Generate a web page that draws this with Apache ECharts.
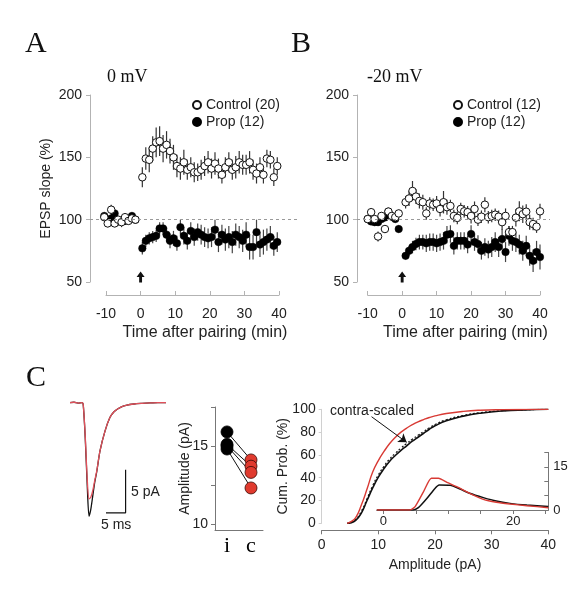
<!DOCTYPE html>
<html><head><meta charset="utf-8">
<script src="https://cdn.jsdelivr.net/npm/echarts@6/dist/echarts.min.js"></script>
<style>html,body{margin:0;padding:0;background:#fff}#c{width:588px;height:601px}</style>
</head><body><div id="c"></div><script>
// ---------------- DATA ----------------
// Panel A (0 mV): time (min), mean EPSP slope (%), SEM
const tA = [-10.5,-9.5,-8.5,-7.5,-6.5,-5.5,-4.5,-3.5,-2.5,-1.5,
  0.5,1.5,2.5,3.5,4.5,5.5,6.5,7.5,8.5,9.5,10.5,11.5,12.5,13.5,14.5,15.5,16.5,17.5,18.5,19.5,
  20.5,21.5,22.5,23.5,24.5,25.5,26.5,27.5,28.5,29.5,30.5,31.5,32.5,33.5,34.5,35.5,36.5,37.5,38.5,39.5];
const ctrlA = [102,97,108,97,100,98,102,99,101,100,
  134,149,148,157,162,163,157,160,155,150,143,141,146,140,142,138,138,140,143,146,
  141,145,141,136,142,146,140,142,146,144,144,146,140,137,142,136,149,148,134,143];
const ctrlAErr = [3,3,4,3,3,4,3,3,3,3,
  8,9,10,10,12,12,11,11,10,10,9,9,10,8,8,8,7,8,8,9,
  8,9,8,7,8,8,8,9,9,8,8,9,8,8,8,7,7,7,7,7];
const propA = [103,100,101,105,99,99,99,100,103,100,
  77,83,85,86,87,93,93,88,83,85,81,94,87,83,91,86,90,88,86,85,
  86,92,82,88,84,86,82,88,86,83,88,78,78,90,80,82,84,86,79,82];
const propAErr = [3,3,3,3,4,3,3,3,3,3,
  5,5,5,5,5,5,5,6,6,6,6,6,7,7,7,7,7,8,8,8,
  8,8,8,8,9,9,9,9,9,9,10,10,10,10,10,10,9,9,8,8];

// Panel B (-20 mV)
const tB = [-10,-9,-8,-7,-6,-5,-4,-3,-2,-1,
  1,2,3,4,5,6,7,8,9,10,11,12,13,14,15,16,17,18,19,20,
  21,22,23,24,25,26,27,28,29,30,31,32,33,34,35,36,37,38,39,40];
const ctrlB = [100.5,106,100.5,86.5,103,92.5,106.5,103,102,105,
  114,117,123,118.5,115,114,105,113,112,113,108.6,114,110,111,103,101.4,108.6,106.7,106,103,
  108.6,100,102.4,112,102,103,104,102.4,98,103,90,90,101.6,106.7,104.4,106.4,98,96.5,94.4,106.7];
const ctrlBErr = [3,3,3,4,3,3,3,3,3,3,
  5,6,8,6,6,6,5,5,5,6,6,9,6,5,5,5,5,5,5,6,
  6,5,5,6,5,5,5,5,6,6,5,5,7,8,7,6,6,5,5,6];
const propB = [100.5,98.6,98,98,100.5,101.8,106.4,102.4,100.5,92.5,
  71,75,78,80.5,82,82,81,82,82,81,82,83,88,88.5,79,83,83,83,80,88.5,
  82,80.5,75,78,76,78,82,78,84.5,74,87,83,82,80,75,79,71,67,74,70];
const propBErr = [2,2,2,2,2,2,3,3,3,3,
  3,4,5,5,6,6,7,7,7,7,7,7,7,7,7,7,7,7,7,7,
  7,7,7,7,7,8,8,8,8,8,8,8,8,8,8,8,8,9,9,10];
const pairingArrow = [[0, 54]];

// Panel C: averaged current traces (ms, pA)
const traceT = [0,1,2,3,3.3,3.8,4.3,4.75,5.2,5.7,6.2,6.7,7.5,8.75,10,11,12,13,14,16,18,20,22,24];
const traceIpsi = [0,0.05,-0.05,0,-0.2,-4,-9.5,-13.2,-12.4,-10.8,-9.2,-8.0,-5.6,-3.3,-1.7,-1.05,-0.7,-0.45,-0.3,-0.15,-0.08,-0.03,0,0];
const traceContra = [0,0.05,-0.05,0,-0.2,-3.8,-8.8,-11.2,-11.0,-10.2,-9.0,-7.9,-5.6,-3.3,-1.7,-1.05,-0.7,-0.45,-0.3,-0.15,-0.08,-0.03,0,0];
const scaleBar = [[9,-12.8],[13.9,-12.8],[13.9,-7.8]]; // 5 ms x 5 pA

// Panel C: paired amplitudes
const ampCats = ['i','c'];
const ampIpsi = [15.9,15.1,15.0,14.8];
const ampContra = [14.1,13.7,13.3,12.3];

// Panel C: cumulative probability
const cumX = [4.5,5,6,7,8,9,10,11,12,13,14,15,16,17,18,19,20,22,25,28,32,36,40];
const cumContra = [0,1,5,16,30,45,55,63,70,75.5,80,83.5,86.5,89,91,92.8,94.2,96.3,98.2,99.2,99.7,99.9,100];
const cumIpsi = [0,0.3,2.5,9,20,31,40.5,48,54.5,59.5,64,68,72,75.5,79,82.5,85.5,90,94,96.6,98.6,99.5,100];
const cumScaled = [0,0.5,3.5,10.5,21.5,33,42.5,50,56.5,61.5,66,70,73.8,77.2,80.5,83.8,86.6,90.8,94.6,97,98.8,99.6,100];
const arrowFrom = [8.8, 93.5], arrowTo = [15.0, 71];

// Inset: amplitude distributions
const insetIpsiX = [-1,4.6,5.4,6.7,7.95,8.6,10.3,11.8,13.3,15.4,17.4,19.5,22.1,25.4];
const insetIpsiY = [0,0,0.8,4.0,7.5,8.7,8.6,7.3,5.8,4.3,3.1,2.3,1.7,1.2];
const insetContraX = [-1,4.1,4.9,6.2,7.4,8.5,9.8,11.3,13.3,15.4,17.4,19.5,22.1,25.4];
const insetContraY = [0,0,1.2,6.4,11.0,11.0,9.6,8.1,5.8,3.7,2.7,2.1,1.5,0.8];

// ---------------- CHART ----------------
const SANS = 'Liberation Sans, Arial, sans-serif';
const SERIF = 'Liberation Serif, Times New Roman, serif';
const TXT = '#222';
const AX = '#b3b3b3';
const AX2 = '#777';
const RED = '#d83a34';

function panel(p) {
  const ppm = (p.t1 - p.t0) / 50;
  return {
    dataGrid: {left: p.yx, top: p.top, width: p.right - p.yx, height: p.bottom - p.top},
    axisGrid: {left: p.t0, top: p.top, width: p.t1 - p.t0, height: p.bottom - p.top},
    xmin: -10 - (p.t0 - p.yx) / ppm, xmax: 40 + (p.right - p.t1) / ppm
  };
}
const PA = panel({yx: 90, t0: 106, t1: 279, right: 300, top: 95, bottom: 282});
const PB = panel({yx: 357, t0: 367.7, t1: 540, right: 550, top: 95, bottom: 282});

const zip = (xs, ys) => xs.map((x, i) => [x, ys[i]]);
function errBars(xi, t, m, e, color) {
  return {
    type: 'custom', xAxisIndex: xi, yAxisIndex: xi, z: 2, silent: true,
    data: t.map((x, i) => [x, m[i] - e[i], m[i] + e[i]]),
    renderItem: function (params, api) {
      const a = api.coord([api.value(0), api.value(1)]);
      const b = api.coord([api.value(0), api.value(2)]);
      return {type: 'line', shape: {x1: a[0], y1: a[1], x2: b[0], y2: b[1]}, style: {stroke: color, lineWidth: 1.2}};
    }
  };
}
function dots(xi, name, t, m, open) {
  return {
    type: 'scatter', name: name, xAxisIndex: xi, yAxisIndex: xi, z: 3, symbol: 'circle', symbolSize: 7.5,
    data: zip(t, m),
    itemStyle: open ? {color: '#fff', borderColor: '#111', borderWidth: 1, opacity: 1} : {color: '#000', borderColor: '#000', borderWidth: 0.5, opacity: 1}
  };
}
const arrowSym = 'path://M5,0L10,6L6.8,6L6.8,12L3.2,12L3.2,6L0,6Z';

function gridObj(o) { return Object.assign({containLabel: false, outerBoundsMode: 'none'}, o); }

function timeAxis(gi, padLeft) {
  return {gridIndex: gi, type: 'value', min: -10, max: 40, interval: 10, offset: 13,
    axisLine: {show: true, onZero: false, lineStyle: {color: AX, width: 1}},
    axisTick: {show: true, inside: true, length: 4, lineStyle: {color: AX}},
    axisLabel: {fontSize: 14, color: TXT, fontFamily: SANS, margin: 12},
    splitLine: {show: false},
    name: 'Time after pairing (min)', nameLocation: 'middle', nameGap: 30,
    nameTextStyle: {fontSize: 16, color: TXT, fontFamily: SANS, padding: [0, 0, 0, padLeft]}};
}
function slopeAxis(gi, withName) {
  const a = {gridIndex: gi, type: 'value', min: 50, max: 200, interval: 50,
    axisLine: {show: true, onZero: false, lineStyle: {color: AX}},
    axisTick: {show: true, length: 4, lineStyle: {color: AX}},
    axisLabel: {fontSize: 14, color: TXT, fontFamily: SANS, margin: 8},
    splitLine: {show: false}};
  if (withName) Object.assign(a, {name: 'EPSP slope (%)', nameLocation: 'middle', nameGap: 37, nameMoveOverlap: false,
    nameTextStyle: {fontSize: 14, color: TXT, fontFamily: SANS}});
  return a;
}
const hidden = (gi, min, max) => ({gridIndex: gi, type: 'value', min: min, max: max, show: false,
  axisLine: {show: false, onZero: false}, splitLine: {show: false}});

const option = {
  backgroundColor: '#fff',
  animation: false,
  textStyle: {fontFamily: SANS},
  grid: [
    gridObj(PA.dataGrid), gridObj(PA.axisGrid),
    gridObj(PB.dataGrid), gridObj(PB.axisGrid),
    gridObj({left: 70, top: 394.1, width: 96, height: 129}),
    gridObj({left: 215, top: 407, width: 48, height: 123}),
    gridObj({left: 321.7, top: 409.3, width: 226.6, height: 114}),
    gridObj({left: 376.8, top: 452.4, width: 171.5, height: 57.6})
  ],
  xAxis: [
    hidden(0, PA.xmin, PA.xmax),
    timeAxis(1, 25),
    hidden(2, PB.xmin, PB.xmax),
    timeAxis(3, 23),
    hidden(4, 0, 24),
    {gridIndex: 5, type: 'category', data: ampCats, boundaryGap: true,
      axisLine: {show: true, onZero: false, lineStyle: {color: AX2}}, axisTick: {show: false},
      axisLabel: {fontFamily: SERIF, fontSize: 22, color: '#000', margin: 5}},
    {gridIndex: 6, type: 'value', min: 0, max: 40, interval: 10, offset: 7,
      axisLine: {show: true, onZero: false, lineStyle: {color: AX2}}, axisTick: {show: true, length: 4, lineStyle: {color: AX2}},
      axisLabel: {fontSize: 14, color: TXT, fontFamily: SANS, margin: 8}, splitLine: {show: false},
      name: 'Amplitude (pA)', nameLocation: 'middle', nameGap: 28,
      nameTextStyle: {fontSize: 14, color: TXT, fontFamily: SANS}},
    {gridIndex: 7, type: 'value', min: -1, max: 25.4,
      axisLine: {show: true, onZero: false, lineStyle: {color: AX2}},
      axisTick: {show: true, length: 4, customValues: [0, 5, 10, 15, 20, 25], lineStyle: {color: AX2}},
      axisLabel: {fontSize: 13, color: TXT, fontFamily: SANS, margin: 5, customValues: [0, 20]},
      splitLine: {show: false}}
  ],
  yAxis: [
    slopeAxis(0, true),
    hidden(1, 50, 200),
    slopeAxis(2, false),
    hidden(3, 50, 200),
    hidden(4, -14, 1),
    {gridIndex: 5, type: 'value', min: 9.6, max: 17.5,
      axisLine: {show: true, onZero: false, lineStyle: {color: AX2}},
      axisTick: {show: true, length: 4, customValues: [10, 12.5, 15, 17.5], lineStyle: {color: AX2}},
      axisLabel: {fontSize: 14, color: TXT, fontFamily: SANS, margin: 7, customValues: [10, 15]},
      splitLine: {show: false},
      name: 'Amplitude (pA)', nameLocation: 'middle', nameGap: 23, nameMoveOverlap: false,
      nameTextStyle: {fontSize: 14, color: TXT, fontFamily: SANS}},
    {gridIndex: 6, type: 'value', min: 0, max: 100, interval: 20,
      axisLine: {show: true, onZero: false, lineStyle: {color: '#d0d0d0'}},
      axisTick: {show: true, length: 3, lineStyle: {color: '#d0d0d0'}},
      axisLabel: {fontSize: 14, color: TXT, fontFamily: SANS, margin: 6},
      splitLine: {show: false},
      name: 'Cum. Prob. (%)', nameLocation: 'middle', nameGap: 32, nameMoveOverlap: false,
      nameTextStyle: {fontSize: 14, color: TXT, fontFamily: SANS}},
    {gridIndex: 7, type: 'value', position: 'right', min: 0, max: 20,
      axisLine: {show: true, onZero: false, lineStyle: {color: AX2}},
      axisTick: {show: true, inside: true, length: 4, customValues: [0, 5, 10, 15, 20], lineStyle: {color: AX2}},
      axisLabel: {fontSize: 13, color: TXT, fontFamily: SANS, margin: 5, customValues: [0, 15]},
      splitLine: {show: false}}
  ],
  legend: [
    {left: 187, top: 93, orient: 'vertical', itemGap: 3, itemWidth: 8, itemHeight: 8, selectedMode: false,
      textStyle: {fontSize: 14, color: TXT, fontFamily: SANS},
      data: [{name: 'Control (20)', icon: 'circle'}, {name: 'Prop (12)', icon: 'circle'}]},
    {left: 448, top: 93, orient: 'vertical', itemGap: 3, itemWidth: 8, itemHeight: 8, selectedMode: false,
      textStyle: {fontSize: 14, color: TXT, fontFamily: SANS},
      data: [{name: 'Control (12)', icon: 'circle'}, {name: 'Prop (12)', icon: 'circle'}]}
  ],
  graphic: [
    {type: 'text', x: 25, y: 44, style: {text: 'A', font: '30px ' + SERIF, fill: '#111', textAlign: 'left', textVerticalAlign: 'middle', align: 'left', verticalAlign: 'middle'}},
    {type: 'text', x: 291, y: 44, style: {text: 'B', font: '30px ' + SERIF, fill: '#111', textAlign: 'left', textVerticalAlign: 'middle', align: 'left', verticalAlign: 'middle'}},
    {type: 'text', x: 26, y: 378, style: {text: 'C', font: '30px ' + SERIF, fill: '#111', textAlign: 'left', textVerticalAlign: 'middle', align: 'left', verticalAlign: 'middle'}},
    {type: 'text', x: 107, y: 77, style: {text: '0 mV', font: '18px ' + SERIF, fill: '#111', textAlign: 'left', textVerticalAlign: 'middle', align: 'left', verticalAlign: 'middle'}},
    {type: 'text', x: 367, y: 77, style: {text: '-20 mV', font: '18px ' + SERIF, fill: '#111', textAlign: 'left', textVerticalAlign: 'middle', align: 'left', verticalAlign: 'middle'}},
    {type: 'text', x: 131, y: 492, style: {text: '5 pA', font: '14px ' + SANS, fill: TXT, textAlign: 'left', textVerticalAlign: 'middle', align: 'left', verticalAlign: 'middle'}},
    {type: 'text', x: 101, y: 525, style: {text: '5 ms', font: '14px ' + SANS, fill: TXT, textAlign: 'left', textVerticalAlign: 'middle', align: 'left', verticalAlign: 'middle'}},
    {type: 'text', x: 330, y: 411, style: {text: 'contra-scaled', font: '14px ' + SANS, fill: TXT, textAlign: 'left', textVerticalAlign: 'middle', align: 'left', verticalAlign: 'middle'}}
  ],
  series: []
};

const S = option.series;
// Panel A
S.push(Object.assign(dots(0, 'Prop (12)', tA, propA, false), {
  markLine: {silent: true, symbol: 'none', label: {show: false}, lineStyle: {color: '#999', type: [3, 3], width: 1},
    data: [{yAxis: 100}]}
}));
S.push(errBars(0, tA, propA, propAErr, '#444'));
S.push(errBars(0, tA, ctrlA, ctrlAErr, '#333'));
S.push(dots(0, 'Control (20)', tA, ctrlA, true));
S.push({type: 'scatter', xAxisIndex: 0, yAxisIndex: 0, symbol: arrowSym, symbolSize: [8, 11], data: pairingArrow, itemStyle: {color: '#111', opacity: 1}, silent: true});
// Panel B
S.push(Object.assign(dots(2, 'Prop (12)', tB, propB, false), {
  markLine: {silent: true, symbol: 'none', label: {show: false}, lineStyle: {color: '#999', type: [3, 3], width: 1},
    data: [{yAxis: 100}]}
}));
S.push(errBars(2, tB, propB, propBErr, '#444'));
S.push(errBars(2, tB, ctrlB, ctrlBErr, '#333'));
S.push(dots(2, 'Control (12)', tB, ctrlB, true));
S.push({type: 'scatter', xAxisIndex: 2, yAxisIndex: 2, symbol: arrowSym, symbolSize: [8, 11], data: pairingArrow, itemStyle: {color: '#111', opacity: 1}, silent: true});

// Traces
S.push({type: 'line', xAxisIndex: 4, yAxisIndex: 4, data: zip(traceT, traceIpsi), showSymbol: false, smooth: 0.25,
  lineStyle: {color: '#111', width: 1.3}, z: 2, silent: true});
S.push({type: 'line', xAxisIndex: 4, yAxisIndex: 4, data: zip(traceT, traceContra), showSymbol: false, smooth: 0.25,
  lineStyle: {color: '#e0505a', width: 1.3}, z: 3, silent: true});
S.push({type: 'line', xAxisIndex: 4, yAxisIndex: 4, data: scaleBar, showSymbol: false,
  lineStyle: {color: '#111', width: 1.2}, silent: true});

// Paired amplitudes
ampIpsi.forEach((v, k) => {
  S.push({type: 'line', xAxisIndex: 5, yAxisIndex: 5, data: [['i', v], ['c', ampContra[k]]], showSymbol: false,
    lineStyle: {color: '#111', width: 1}, z: 2, silent: true});
});
S.push({type: 'scatter', xAxisIndex: 5, yAxisIndex: 5, symbolSize: 12, z: 3,
  data: ampIpsi.map(v => ['i', v]), itemStyle: {color: '#000', borderColor: '#000', borderWidth: 0.8, opacity: 1}});
S.push({type: 'scatter', xAxisIndex: 5, yAxisIndex: 5, symbolSize: 12, z: 3,
  data: ampContra.map(v => ['c', v]), itemStyle: {color: '#e03a2e', borderColor: '#3a0a05', borderWidth: 0.8, opacity: 1}});

// Cumulative
S.push({type: 'line', xAxisIndex: 6, yAxisIndex: 6, data: zip(cumX, cumIpsi), showSymbol: false, smooth: true,
  lineStyle: {color: '#111', width: 1.6}, silent: true});
S.push({type: 'line', xAxisIndex: 6, yAxisIndex: 6, data: zip(cumX, cumScaled), showSymbol: false, smooth: true,
  lineStyle: {color: '#111', width: 1.2, type: [2, 2]}, silent: true,
  markLine: {silent: true, symbol: ['none', 'arrow'], symbolSize: 8, label: {show: false},
    lineStyle: {color: '#111', type: 'solid', width: 1},
    data: [[{coord: arrowFrom}, {coord: arrowTo}]]}});
S.push({type: 'line', xAxisIndex: 6, yAxisIndex: 6, data: zip(cumX, cumContra), showSymbol: false, smooth: true,
  lineStyle: {color: RED, width: 1.4}, silent: true});

// Inset
S.push({type: 'line', xAxisIndex: 7, yAxisIndex: 7, data: zip(insetIpsiX, insetIpsiY), showSymbol: false, smooth: 0.2,
  lineStyle: {color: '#111', width: 1.5}, silent: true});
S.push({type: 'line', xAxisIndex: 7, yAxisIndex: 7, data: zip(insetContraX, insetContraY), showSymbol: false, smooth: 0.2,
  lineStyle: {color: RED, width: 1.4}, silent: true});

const chart = echarts.init(document.getElementById('c'), null, {renderer: 'canvas', width: 588, height: 601});
chart.setOption(option);
</script></body></html>
